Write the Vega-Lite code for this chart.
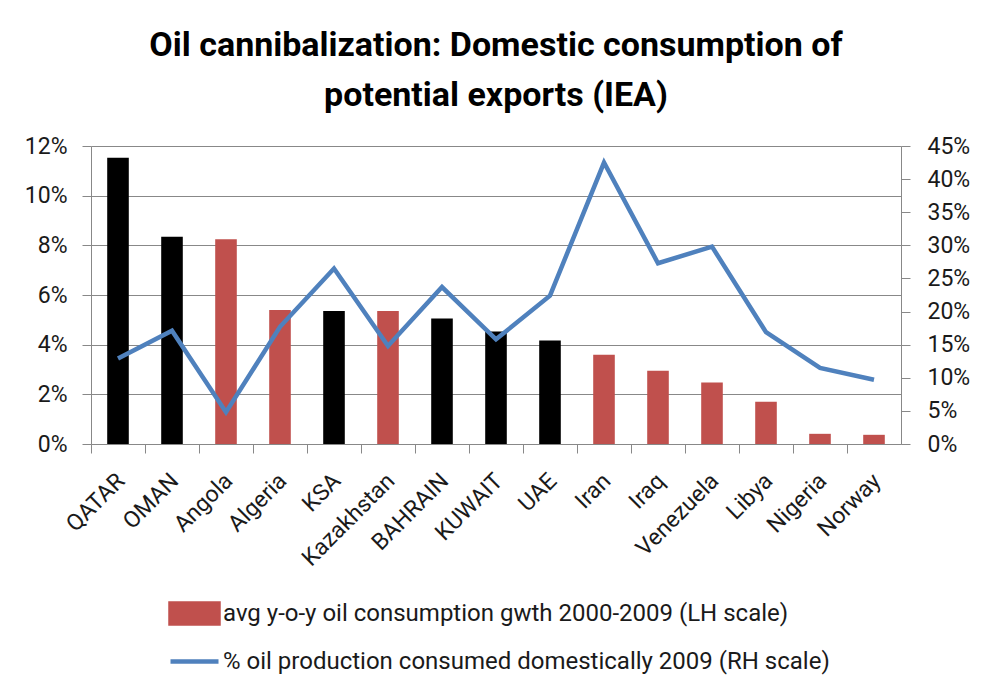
{
  "$schema": "https://vega.github.io/schema/vega-lite/v6.json",
  "width": 810,
  "height": 298,
  "autosize": {"type": "none"},
  "padding": {"left": 91, "top": 146, "right": 89, "bottom": 252},
  "background": "white",
  "title": {
    "text": ["Oil cannibalization: Domestic consumption of", "potential exports (IEA)"],
    "font": "Roboto",
    "fontSize": 34,
    "fontWeight": "bold",
    "color": "#000000",
    "lineHeight": 50,
    "anchor": "middle",
    "offset": 22
  },
  "config": {
    "view": {"stroke": null},
    "axis": {"labelFont": "Roboto", "labelFontSize": 23, "labelColor": "#1a1a1a", "domainColor": "#888888", "tickColor": "#888888", "gridColor": "#888888", "tickSize": 9}
  },
  "data": {
    "values": [
      {"country": "QATAR", "growth": 0.1153, "consumed": 0.129, "gcc": true},
      {"country": "OMAN", "growth": 0.0835, "consumed": 0.171, "gcc": true},
      {"country": "Angola", "growth": 0.0824, "consumed": 0.048, "gcc": false},
      {"country": "Algeria", "growth": 0.0540, "consumed": 0.177, "gcc": false},
      {"country": "KSA", "growth": 0.0536, "consumed": 0.265, "gcc": true},
      {"country": "Kazakhstan", "growth": 0.0536, "consumed": 0.148, "gcc": false},
      {"country": "BAHRAIN", "growth": 0.0505, "consumed": 0.237, "gcc": true},
      {"country": "KUWAIT", "growth": 0.0453, "consumed": 0.158, "gcc": true},
      {"country": "UAE", "growth": 0.0417, "consumed": 0.224, "gcc": true},
      {"country": "Iran", "growth": 0.0359, "consumed": 0.425, "gcc": false},
      {"country": "Iraq", "growth": 0.0295, "consumed": 0.273, "gcc": false},
      {"country": "Venezuela", "growth": 0.0248, "consumed": 0.298, "gcc": false},
      {"country": "Libya", "growth": 0.0170, "consumed": 0.169, "gcc": false},
      {"country": "Nigeria", "growth": 0.0041, "consumed": 0.115, "gcc": false},
      {"country": "Norway", "growth": 0.0037, "consumed": 0.097, "gcc": false}
    ]
  },
  "encoding": {
    "x": {
      "field": "country",
      "type": "nominal",
      "sort": null,
      "scale": {"paddingInner": 0, "paddingOuter": 0},
      "axis": {"title": null, "labelAngle": -45, "labelAlign": "right", "labelBaseline": "middle", "labelPadding": 24, "labelOffset": 3, "bandPosition": 0, "grid": false, "domain": true}
    }
  },
  "layer": [
    {
      "mark": {"type": "bar", "width": {"band": 0.4}},
      "encoding": {
        "y": {
          "field": "growth",
          "type": "quantitative",
          "scale": {"domain": [0, 0.12]},
          "axis": {"title": null, "orient": "left", "values": [0, 0.02, 0.04, 0.06, 0.08, 0.1, 0.12], "format": ".0%", "grid": true, "labelPadding": 15}
        },
        "color": {
          "condition": {"test": "datum.gcc", "value": "#000000"},
          "datum": "avg y-o-y oil consumption gwth 2000-2009 (LH scale)",
          "scale": {
            "domain": ["avg y-o-y oil consumption gwth 2000-2009 (LH scale)", "% oil production consumed domestically 2009 (RH scale)"],
            "range": ["#C0504D", "#4F81BD"]
          },
          "legend": {
            "orient": "none",
            "legendX": 77,
            "legendY": 441,
            "direction": "vertical",
            "title": null,
            "labelFont": "Roboto",
            "labelFontSize": 24,
            "labelColor": "#1a1a1a",
            "labelLimit": 0,
            "symbolSize": 2304,
            "rowPadding": 2,
            "labelOffset": 2,
            "padding": 0,
            "encode": {
              "symbols": {
                "update": {
                  "shape": {"signal": "datum.value === '% oil production consumed domestically 2009 (RH scale)' ? 'M-1,0H1' : 'M-1,-0.42H1V0.42H-1Z'"},
                  "fill": {"signal": "datum.value === '% oil production consumed domestically 2009 (RH scale)' ? 'transparent' : '#C0504D'"},
                  "stroke": {"signal": "datum.value === '% oil production consumed domestically 2009 (RH scale)' ? '#4F81BD' : 'transparent'"},
                  "strokeWidth": {"value": 4.5},
                  "opacity": {"value": 1},
                  "fillOpacity": {"value": 1},
                  "strokeOpacity": {"value": 1}
                }
              }
            }
          }
        }
      }
    },
    {
      "mark": {"type": "line", "strokeWidth": 4.5, "strokeJoin": "miter"},
      "encoding": {
        "y": {
          "field": "consumed",
          "type": "quantitative",
          "scale": {"domain": [0, 0.45]},
          "axis": {"title": null, "orient": "right", "values": [0, 0.05, 0.1, 0.15, 0.2, 0.25, 0.3, 0.35, 0.4, 0.45], "format": ".0%", "grid": false, "labelPadding": 17}
        },
        "color": {"datum": "% oil production consumed domestically 2009 (RH scale)"}
      }
    }
  ],
  "resolve": {"scale": {"y": "independent"}}
}
